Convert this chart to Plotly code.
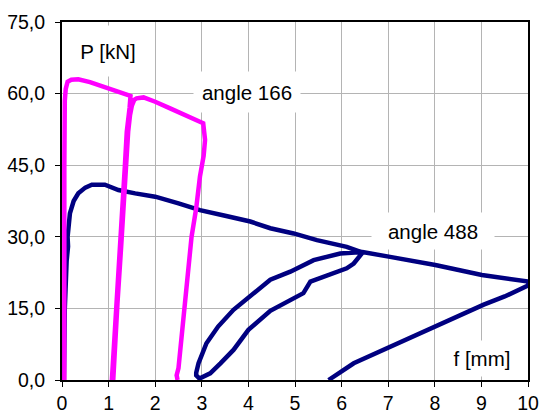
import plotly.graph_objects as go

# angle 166 (magenta) : load path with two unload/reload cycles
pink_x = [0.05, 0.04, 0.05, 0.05, 0.05, 0.06, 0.08, 0.12, 0.2, 0.35, 0.6, 0.96, 1.2, 1.42, 1.47,
          1.45, 1.39, 1.35, 1.3, 1.25, 1.19, 1.14, 1.1, 1.07,
          1.1, 1.14, 1.19, 1.27, 1.32, 1.38, 1.42, 1.46, 1.5, 1.55, 1.6, 1.75, 2.0, 2.32, 2.7, 3.03,
          3.07, 3.04, 2.96, 2.88, 2.78, 2.7, 2.64, 2.57, 2.5, 2.46, 2.48]
pink_y = [0.0, 15.0, 30.0, 45.0, 55.0, 58.5, 61.0, 62.5, 62.9, 63.0, 62.4, 61.1, 60.4, 59.7, 59.5,
          57.0, 52.0, 45.0, 37.0, 30.0, 21.0, 15.0, 7.0, 0.0,
          0.0, 8.0, 16.0, 28.0, 37.0, 46.0, 52.0, 55.5, 57.5, 58.7, 59.0, 59.2, 58.3, 56.9, 55.3, 53.8,
          50.3, 47.0, 42.6, 36.0, 30.0, 22.0, 15.0, 7.7, 2.5, 1.0, 0.0]

# angle 488 (navy) : load path with two unload/reload cycles
navy_x = [0.04, 0.06, 0.1, 0.13, 0.12, 0.17, 0.25, 0.35, 0.5, 0.64, 0.92, 1.21, 1.57, 2.0, 2.5, 2.96,
          3.5, 4.04, 4.47, 4.97, 5.47, 6.11, 6.45,
          6.26, 6.11, 5.7, 5.33, 5.18, 4.47, 4.0, 3.68, 3.4, 3.18, 2.95, 2.88,
          2.88, 2.93, 3.1, 3.35, 3.68, 4.1, 4.47, 4.9, 5.4, 5.97, 6.45,
          7.04, 8.01, 9.01, 10.02,
          10.0, 9.5, 9.05, 8.0, 7.0, 6.26, 5.72]
navy_y = [0.0, 15.0, 25.0, 28.0, 30.0, 34.9, 37.5, 39.1, 40.3, 40.9, 40.9, 39.8, 39.1, 38.4, 37.0, 35.6,
          34.4, 33.2, 31.8, 30.7, 29.3, 27.9, 26.7,
          24.4, 23.4, 21.8, 20.6, 18.2, 14.5, 10.5, 6.3, 3.5, 1.4, 0.3, 1.0,
          1.5, 3.5, 7.7, 11.2, 14.7, 18.0, 21.0, 22.7, 25.1, 26.5, 26.8,
          25.8, 24.1, 22.0, 20.6,
          19.8, 17.5, 15.8, 11.2, 6.6, 3.5, 0.0]

x_ticks = [0, 1, 2, 3, 4, 5, 6, 7, 8, 9, 10]
y_ticks = [0, 15, 30, 45, 60, 75]

labels = ["P [kN]", "angle 166", "angle 488", "f [mm]"]
label_x = [0.98, 3.97, 7.96, 9.02]
label_y = [69.0, 60.3, 31.2, 4.6]
label_w = [80, 104, 120, 80]
label_h = [48, 38, 34, 33]

FONT = "Liberation Sans, Arial, sans-serif"

fig = go.Figure()
fig.add_trace(go.Scatter(x=navy_x, y=navy_y, mode="lines",
                         line=dict(color="#000080", width=4.5), showlegend=False))
fig.add_trace(go.Scatter(x=pink_x, y=pink_y, mode="lines",
                         line=dict(color="#FF00FF", width=4.5), showlegend=False))

for t, x, y, w, h in zip(labels, label_x, label_y, label_w, label_h):
    fig.add_annotation(x=x, y=y, xref="x", yref="y", text=t, showarrow=False,
                       bgcolor="white", width=w, height=h,
                       font=dict(family=FONT, size=20.5, color="black"))

fig.update_layout(
    width=541, height=419,
    margin=dict(l=62, r=13, t=22, b=39, autoexpand=False),
    paper_bgcolor="white", plot_bgcolor="white",
    separators=",.",
    font=dict(family=FONT, size=19.5, color="black"),
    showlegend=False,
)
fig.update_xaxes(range=[0, 10], tickvals=x_ticks, ticks="outside", ticklen=5,
                 tickcolor="black", showgrid=True, gridcolor="#b4b4b4", gridwidth=1,
                 showline=True, linecolor="black", linewidth=2, mirror=True,
                 zeroline=False, automargin=False, tickfont=dict(size=19.5))
fig.update_yaxes(range=[0, 75], tickvals=y_ticks, tickformat=".1f", ticks="outside",
                 ticklen=5, tickcolor="black", showgrid=True, gridcolor="#b4b4b4",
                 gridwidth=1, showline=True, linecolor="black", linewidth=2, mirror=True,
                 zeroline=False, automargin=False, ticklabelstandoff=6,
                 tickfont=dict(size=19.5))

fig.write_html("out.html", config={"displayModeBar": False},
               post_script="document.body.style.margin='0';")
